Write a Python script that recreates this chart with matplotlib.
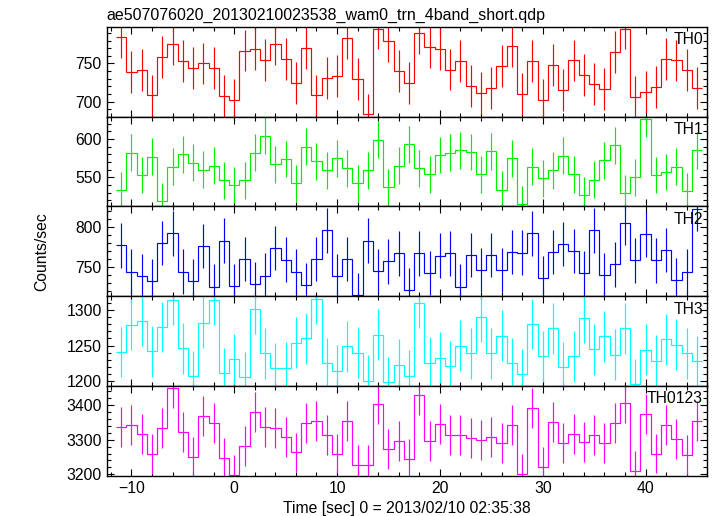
import numpy as np
import matplotlib
matplotlib.use("Agg")
import matplotlib.pyplot as plt
from matplotlib.ticker import MultipleLocator

plt.rcParams['font.family'] = ['Liberation Sans', 'DejaVu Sans']

title = "ae507076020_20130210023538_wam0_trn_4band_short.qdp"
xlabel = "Time [sec] 0 = 2013/02/10 02:35:38"
ylabel = "Counts/sec"

# 1 s bins, centres -11 .. 45
time = np.arange(-11, 46)

th0 = [785, 739, 741, 708, 758, 776, 753, 744, 750, 744, 707, 702, 767, 769, 755, 775,
       756, 724, 770, 708, 731, 734, 784, 730, 683, 796, 780, 740, 724, 790, 772, 769,
       742, 753, 720, 711, 718, 747, 773, 710, 753, 702, 748, 715, 754, 735, 723, 717,
       765, 796, 706, 712, 719, 756, 754, 741, 718]
th1 = [533, 582, 553, 577, 519, 564, 580, 569, 560, 565, 546, 540, 546, 582, 604, 567,
       574, 542, 590, 571, 559, 575, 562, 542, 559, 599, 537, 565, 593, 562, 554, 579,
       582, 585, 583, 554, 584, 534, 575, 515, 564, 549, 559, 578, 554, 527, 547, 572,
       592, 529, 550, 626, 553, 557, 564, 532, 585]
th2 = [777, 744, 738, 732, 780, 792, 744, 732, 776, 725, 783, 726, 760, 728, 739, 774,
       759, 744, 727, 760, 796, 738, 760, 714, 783, 745, 757, 767, 721, 767, 742, 764,
       767, 725, 765, 746, 765, 746, 769, 768, 792, 736, 769, 779, 770, 742, 796, 740,
       753, 805, 758, 791, 758, 771, 733, 744, 823]
th3 = [1241, 1279, 1285, 1242, 1276, 1314, 1246, 1207, 1282, 1314, 1211, 1231, 1206, 1301,
       1239, 1218, 1219, 1254, 1260, 1315, 1225, 1215, 1249, 1240, 1201, 1265, 1199, 1223,
       1208, 1310, 1226, 1233, 1221, 1250, 1239, 1290, 1239, 1264, 1225, 1210, 1280, 1235,
       1274, 1220, 1235, 1289, 1245, 1263, 1237, 1274, 1196, 1244, 1229, 1259, 1251, 1239,
       1228]
th0123 = [3336, 3343, 3317, 3259, 3333, 3450, 3321, 3251, 3369, 3347, 3247, 3199, 3281,
          3380, 3336, 3333, 3308, 3263, 3348, 3355, 3313, 3260, 3355, 3226, 3227, 3404,
          3274, 3296, 3245, 3430, 3295, 3345, 3313, 3313, 3306, 3300, 3307, 3291, 3342,
          3202, 3391, 3222, 3351, 3291, 3316, 3294, 3313, 3291, 3347, 3405, 3210, 3374,
          3260, 3343, 3303, 3255, 3355]

names = ["TH0", "TH1", "TH2", "TH3", "TH0123"]
series = [th0, th1, th2, th3, th0123]
errors = [27.5, 24, 28, 35.5, 57.5]
colors = ["#ff0000", "#00f000", "#0000ff", "#00ffff", "#ff00ff"]
ylims = [(680, 798), (512, 629), (713, 826), (1193.5, 1319), (3196, 3455)]
ymajor = [50, 50, 50, 50, 100]
yminor = [10, 10, 10, 10, 20]

fig = plt.figure(figsize=(7.17, 5.16), dpi=100)
fig.subplots_adjust(left=0.1488, right=0.9865, top=0.9477, bottom=0.0781, hspace=0)
axes = fig.subplots(5, 1, sharex=True)

edges = np.append(time - 0.5, time[-1] + 0.5)
for i, ax in enumerate(axes):
    y = np.array(series[i], dtype=float)
    ax.stairs(y, edges, baseline=None, color=colors[i], lw=0.85)
    ax.errorbar(time, y, yerr=errors[i], fmt='none', ecolor=colors[i], elinewidth=0.85,
                capsize=0)
    ax.set_xlim(-12.4, 46.0)
    ax.set_ylim(*ylims[i])
    ax.yaxis.set_major_locator(MultipleLocator(ymajor[i]))
    ax.yaxis.set_minor_locator(MultipleLocator(yminor[i]))
    ax.xaxis.set_major_locator(MultipleLocator(10))
    ax.xaxis.set_minor_locator(MultipleLocator(2))
    ax.tick_params(which='both', direction='in', top=True, right=True, labelsize=11.3,
                   width=0.8)
    ax.tick_params(which='major', length=5)
    ax.tick_params(which='minor', length=3)
    for s in ax.spines.values():
        s.set_linewidth(1.0)
    ax.text(0.993, 0.94, names[i], transform=ax.transAxes, ha='right', va='top',
            fontsize=11.3)
    if i < 4:
        ax.tick_params(labelbottom=False)

axes[0].set_title(title, loc='left', fontsize=11.5, pad=5)
axes[-1].set_xlabel(xlabel, fontsize=11.3, labelpad=4)
fig.text(0.058, 0.513, ylabel, rotation=90, ha='center', va='center', fontsize=11.3)

plt.savefig("out.png", dpi=100)
